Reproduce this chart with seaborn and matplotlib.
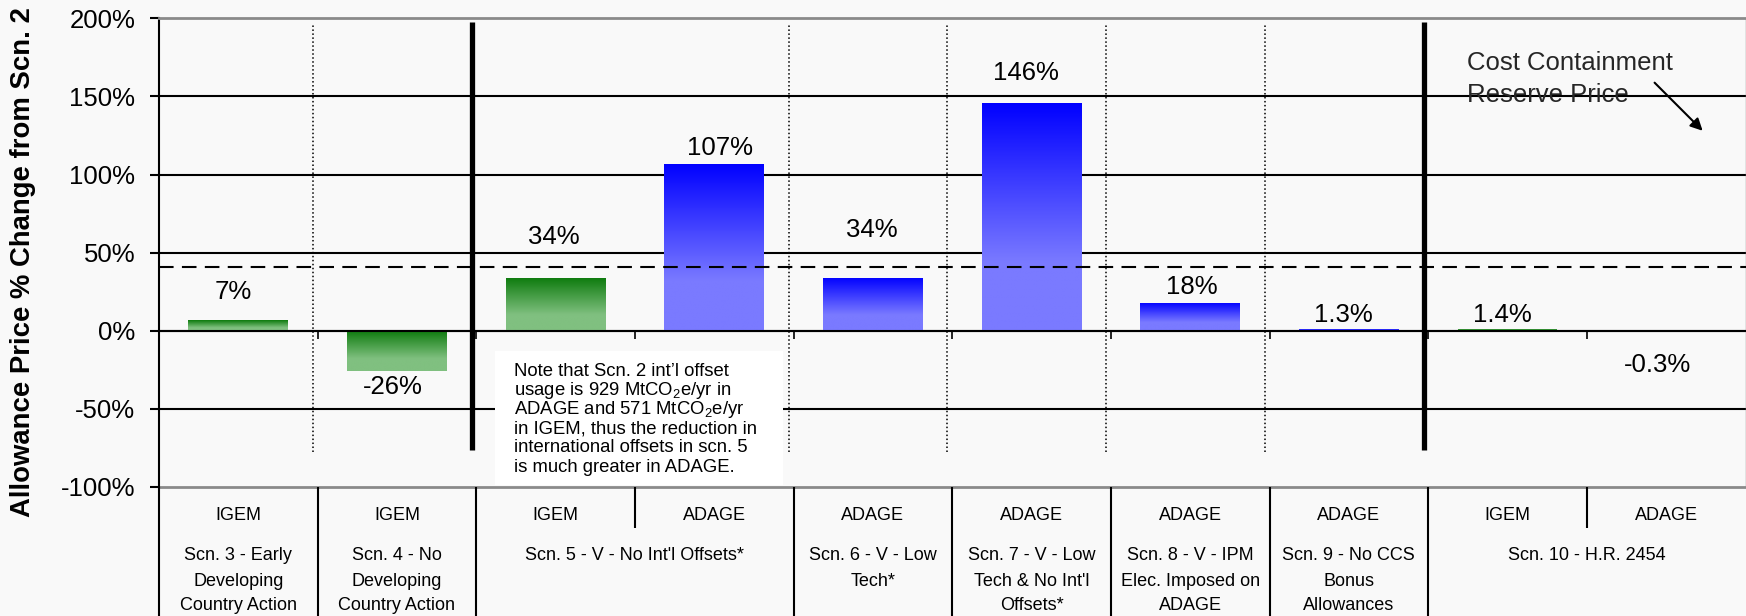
import numpy as np
import pandas as pd
import matplotlib
matplotlib.use("Agg")
import matplotlib.pyplot as plt
import seaborn as sns
from matplotlib.patches import Rectangle

# ---------------- data ----------------
scenarios = ["Scn. 3", "Scn. 4", "Scn. 5", "Scn. 5", "Scn. 6",
             "Scn. 7", "Scn. 8", "Scn. 9", "Scn. 10", "Scn. 10"]
models = ["IGEM", "IGEM", "IGEM", "ADAGE", "ADAGE",
          "ADAGE", "ADAGE", "ADAGE", "IGEM", "ADAGE"]
price_change_pct = [7, -26, 34, 107, 34, 146, 18, 1.3, 1.4, -0.3]
value_labels = ["7%", "-26%", "34%", "107%", "34%", "146%", "18%", "1.3%", "1.4%", "-0.3%"]

group_labels = [
    "Scn. 3 - Early\nDeveloping\nCountry Action",
    "Scn. 4 - No\nDeveloping\nCountry Action",
    "Scn. 5 - V - No Int'l Offsets*",
    "Scn. 6 - V - Low\nTech*",
    "Scn. 7 - V - Low\nTech & No Int'l\nOffsets*",
    "Scn. 8 - V - IPM\nElec. Imposed on\nADAGE",
    "Scn. 9 - No CCS\nBonus\nAllowances",
    "Scn. 10 - H.R. 2454",
]
group_spans = [(0, 0), (1, 1), (2, 3), (4, 4), (5, 5), (6, 6), (7, 7), (8, 9)]

reserve_price_pct = 41
y_ticks = [-100, -50, 0, 50, 100, 150, 200]

note_lines = [
    "Note that Scn. 2 int\u2019l offset",
    "usage is 929 MtCO$_2$e/yr in",
    "ADAGE and 571 MtCO$_2$e/yr",
    "in IGEM, thus the reduction in",
    "international offsets in scn. 5",
    "is much greater in ADAGE.",
]

# label offsets from the bar end (points)
label_dx = [-4, -3, -1, 4, -1, -4, 1, -4, -4, -6]
label_dy = [20, -11, 29.5, 11.5, 34.5, 21, 11, 10, 9.7, -24.5]

# ---------------- style ----------------
sns.set_theme(style="white")
plt.rcParams["font.family"] = ["Liberation Sans", "DejaVu Sans"]
plt.rcParams["mathtext.fontset"] = "custom"
plt.rcParams["mathtext.rm"] = "Liberation Sans"
plt.rcParams["mathtext.it"] = "Liberation Sans:italic"
plt.rcParams["mathtext.bf"] = "Liberation Sans:bold"

BG = "#f9f9f9"
GREEN_TOP, GREEN_BOT = np.array([12, 122, 12]) / 255, np.array([128, 192, 128]) / 255
BLUE_TOP, BLUE_BOT = np.array([0, 0, 255]) / 255, np.array([122, 122, 255]) / 255
FRAME_GRAY = "#8a8a8a"

W, H = 1746, 616
fig = plt.figure(figsize=(W / 100, H / 100), dpi=100, facecolor=BG)
ax_l, ax_r, ax_t, ax_b = 159, 1745.5, 18.3, 487
ax = fig.add_axes([ax_l / W, 1 - ax_b / H, (ax_r - ax_l) / W, (ax_b - ax_t) / H])
ax.set_facecolor(BG)

cases = [f"{s} {m}" for s, m in zip(scenarios, models)]
df = pd.DataFrame({"case": cases, "model": models, "change": price_change_pct})

sns.barplot(data=df, x="case", y="change", hue="model", order=cases,
            hue_order=["IGEM", "ADAGE"],
            palette={"IGEM": GREEN_BOT, "ADAGE": BLUE_BOT},
            dodge=False, width=0.63, linewidth=0, legend=False,
            errorbar=None, ax=ax, zorder=2)

# vertical gradient fill, dark at the top edge of each bar
def gradient_fill(patch, top, bot, ramp=0.7):
    x0, y0 = patch.get_x(), patch.get_y()
    w, h = patch.get_width(), patch.get_height()
    ylo, yhi = min(y0, y0 + h), max(y0, y0 + h)
    if abs(h) < 3:
        # too thin for a visible ramp: use a single mid tone
        patch.set_facecolor(top + (bot - top) * 0.35)
        return
    t = np.linspace(0, 1, 256)[:, None]
    f = np.clip(t / ramp, 0, 1)
    img = (top[None, :] + (bot - top)[None, :] * f)[:, None, :]
    im = ax.imshow(img, extent=[x0, x0 + w, ylo, yhi], origin="upper",
                   aspect="auto", interpolation="bilinear", zorder=2.1)
    im.set_clip_path(patch)

for p in list(ax.patches):
    idx = int(round(p.get_x() + p.get_width() / 2))
    if models[idx] == "IGEM":
        gradient_fill(p, GREEN_TOP, GREEN_BOT)
    else:
        gradient_fill(p, BLUE_TOP, BLUE_BOT)

ax.set_xlim(-0.5, 9.5)
ax.set_ylim(-100, 200)

# horizontal rules
for yv in y_ticks:
    if yv == -100:
        ax.axhline(yv, color=FRAME_GRAY, lw=2, zorder=1, clip_on=False)
    elif yv != 200:
        ax.axhline(yv, color="black", lw=1.5, zorder=1)

# cost containment reserve price
ax.axhline(reserve_price_pct, color="black", lw=1.5, ls=(0, (7, 4)), zorder=3)

# separators between scenario groups
bounds = np.arange(11) - 0.5
for k in (1, 4, 5, 6, 7):
    ax.vlines(bounds[k] - 0.03, -77.6, 197.2, color="black", lw=1.1,
              linestyles=(0, (1, 1.6)), zorder=1.5)
for k in (2, 8):
    ax.vlines(bounds[k] - 0.027, -76.5, 197.9, color="black", lw=3.8, zorder=3)

# spines / ticks
for s in ("top", "right"):
    ax.spines[s].set_visible(True)
    ax.spines[s].set_color(FRAME_GRAY)
ax.spines["top"].set_linewidth(2)
ax.spines["right"].set_linewidth(1)
ax.spines["left"].set_color("black")
ax.spines["left"].set_linewidth(1.5)
ax.spines["bottom"].set_position(("data", 0))
ax.spines["bottom"].set_color("black")
ax.spines["bottom"].set_linewidth(1.5)

ax.set_yticks(y_ticks)
ax.set_yticklabels([f"{v}%" for v in y_ticks])
ax.tick_params(axis="y", direction="out", length=6.5, width=1.5, pad=10.5,
               labelsize=18.5, colors="black", left=True)
ax.set_xticks(bounds[:10])
ax.set_xticklabels([])
ax.tick_params(axis="x", direction="out", length=5.5, width=1.2,
               colors="black", bottom=True)
ax.set_xlabel("")
ax.set_ylabel("")

# value labels
for i, (v, lab) in enumerate(zip(price_change_pct, value_labels)):
    ax.annotate(lab, xy=(i, v), xytext=(label_dx[i], label_dy[i]),
                textcoords="offset points", ha="center", va="center",
                fontsize=18.5, color="black", zorder=6)

# note box
ax.add_patch(Rectangle((1.617, -98.9), 3.432 - 1.617, 98.9 - 13.0,
                       facecolor="white", edgecolor="none", zorder=5))
for i, line in enumerate(note_lines):
    ax.annotate(line, xy=(1.737, -29.2), xytext=(0, -13.7 * i),
                textcoords="offset points", ha="left", va="baseline",
                fontsize=13.3, color="black", zorder=6)

# reserve price callout
ax.text(7.742, 171.6, "Cost Containment", fontsize=18.5, ha="left", va="center", zorder=6)
ax.text(7.742, 151.1, "Reserve Price", fontsize=18.5, ha="left", va="center", zorder=6)
ax.annotate("", xy=(9.23, 128.0), xytext=(8.927, 158.8),
            arrowprops=dict(arrowstyle="-|>", lw=1.5, color="black",
                            mutation_scale=18, shrinkA=0, shrinkB=0), zorder=6)

# y axis title
fig.text(23 / W, 1 - 262 / H, "Allowance Price % Change from Scn. 2",
         rotation=90, ha="center", va="center", fontsize=19.8,
         fontweight="bold", color="black")

# category table under the plot (y in pixel rows below the axes)
tab = fig.add_axes([ax_l / W, 0, (ax_r - ax_l) / W, 1 - ax_b / H])
tab.set_xlim(-0.5, 9.5)
tab.set_ylim(H - ax_b, 0)
tab.axis("off")
for k in (0, 1, 2, 4, 5, 6, 7, 8):
    tab.vlines(bounds[k], 0, H - ax_b, color="black", lw=1.5, clip_on=False)
for k in (3, 9):
    tab.vlines(bounds[k], 0, 41, color="black", lw=1.5)
for i, m in enumerate(models):
    tab.text(i, 28, m, ha="center", va="center", fontsize=13, color="black")
for text, (a, b) in zip(group_labels, group_spans):
    xc = (a + b) / 2
    for j, line in enumerate(text.split("\n")):
        tab.text(xc, 69 + 25 * j, line, ha="center", va="center",
                 fontsize=13, color="black", clip_on=False)

fig.savefig("out.png", dpi=100, facecolor=BG)
